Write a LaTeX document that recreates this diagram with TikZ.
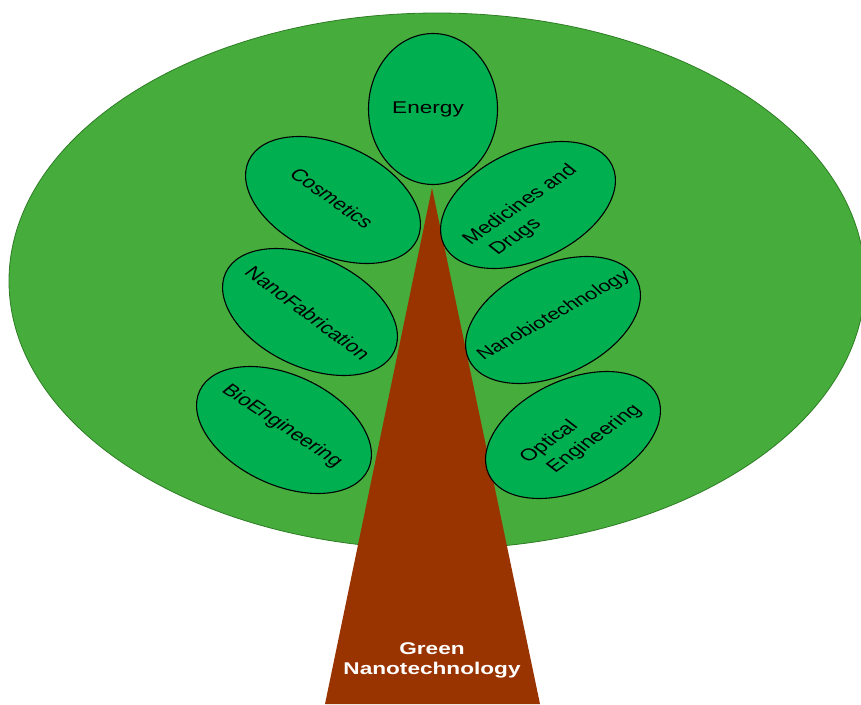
\documentclass[tikz,border=0pt]{standalone}
\usepackage{fontspec}
\setmainfont{Liberation Sans}
\usetikzlibrary{shapes.geometric}

\definecolor{crown}{RGB}{70,173,61}
\definecolor{crownline}{RGB}{45,125,35}
\definecolor{leafgreen}{RGB}{0,176,80}
\definecolor{bark}{RGB}{153,51,0}

\begin{document}
\begin{tikzpicture}[x=1pt, y=-1pt, line join=round]

% --------- styles ----------
\tikzset{
  leaf/.style={ellipse, draw=black, line width=1.1pt, fill=leafgreen,
               minimum width=186pt, minimum height=110pt, inner sep=0pt},
  leaftext/.style={font=\fontsize{16.8}{21}\selectfont, align=left, inner sep=0pt, xscale=1.35},
  trunktext/.style={font=\bfseries\fontsize{17}{20}\selectfont,
                    text=white, align=center, xscale=1.33}
}

\useasboundingbox (0,0) rectangle (861,704);
\clip (0,0) rectangle (861,704);

% ===================== crown and trunk =====================
\filldraw[fill=crown, draw=crownline, line width=0.8pt]
  (437,281) ellipse [x radius=428, y radius=268];

\coordinate (treetop) at (432,188);
\fill[bark] (treetop) -- (540,704) -- (325,704) -- cycle;
\node[trunktext] (trunk-txt) at (432,660) {Green\\Nanotechnology};

% ===================== leaves =====================
% top
\node[leaf, minimum width=129pt, minimum height=151pt] (energy) at (433,109) {};
\node[font=\fontsize{17}{20}\selectfont, inner sep=0pt, xscale=1.33] (energy-txt) at (428,109) {Energy};

% left side
\node[leaf, rotate=-25] (cosmetics) at (333,200) {};
\node[leaftext, rotate=-44] (cosmetics-txt) at (332,198) {Cosmetics};

\node[leaf, rotate=-25] (nanofab) at (310,312) {};
\node[leaftext, rotate=-45] (nanofab-txt) at (308,313) {NanoFabrication};

\node[leaf, rotate=-25] (bioeng) at (284,430) {};
\node[leaftext, rotate=-42] (bioeng-txt) at (282,426) {BioEngineering};

% right side
\node[leaf, rotate=25] (medicines) at (528,205) {};
\node[leaftext, rotate=43] (medicines-txt) at (530,213) {Medicines and\\\hspace*{7.5pt}Drugs};

\node[leaf, rotate=25] (nanobio) at (553,320) {};
\node[leaftext, rotate=37, font=\fontsize{16}{20}\selectfont] (nanobio-txt) at (554,316) {Nanobiotechnology};

\node[leaf, rotate=25] (optical) at (573,435) {};
\node[leaftext, rotate=44] (optical-txt) at (581,434) {Optical\\\hspace*{7.5pt}Engineering};

\end{tikzpicture}
\end{document}
